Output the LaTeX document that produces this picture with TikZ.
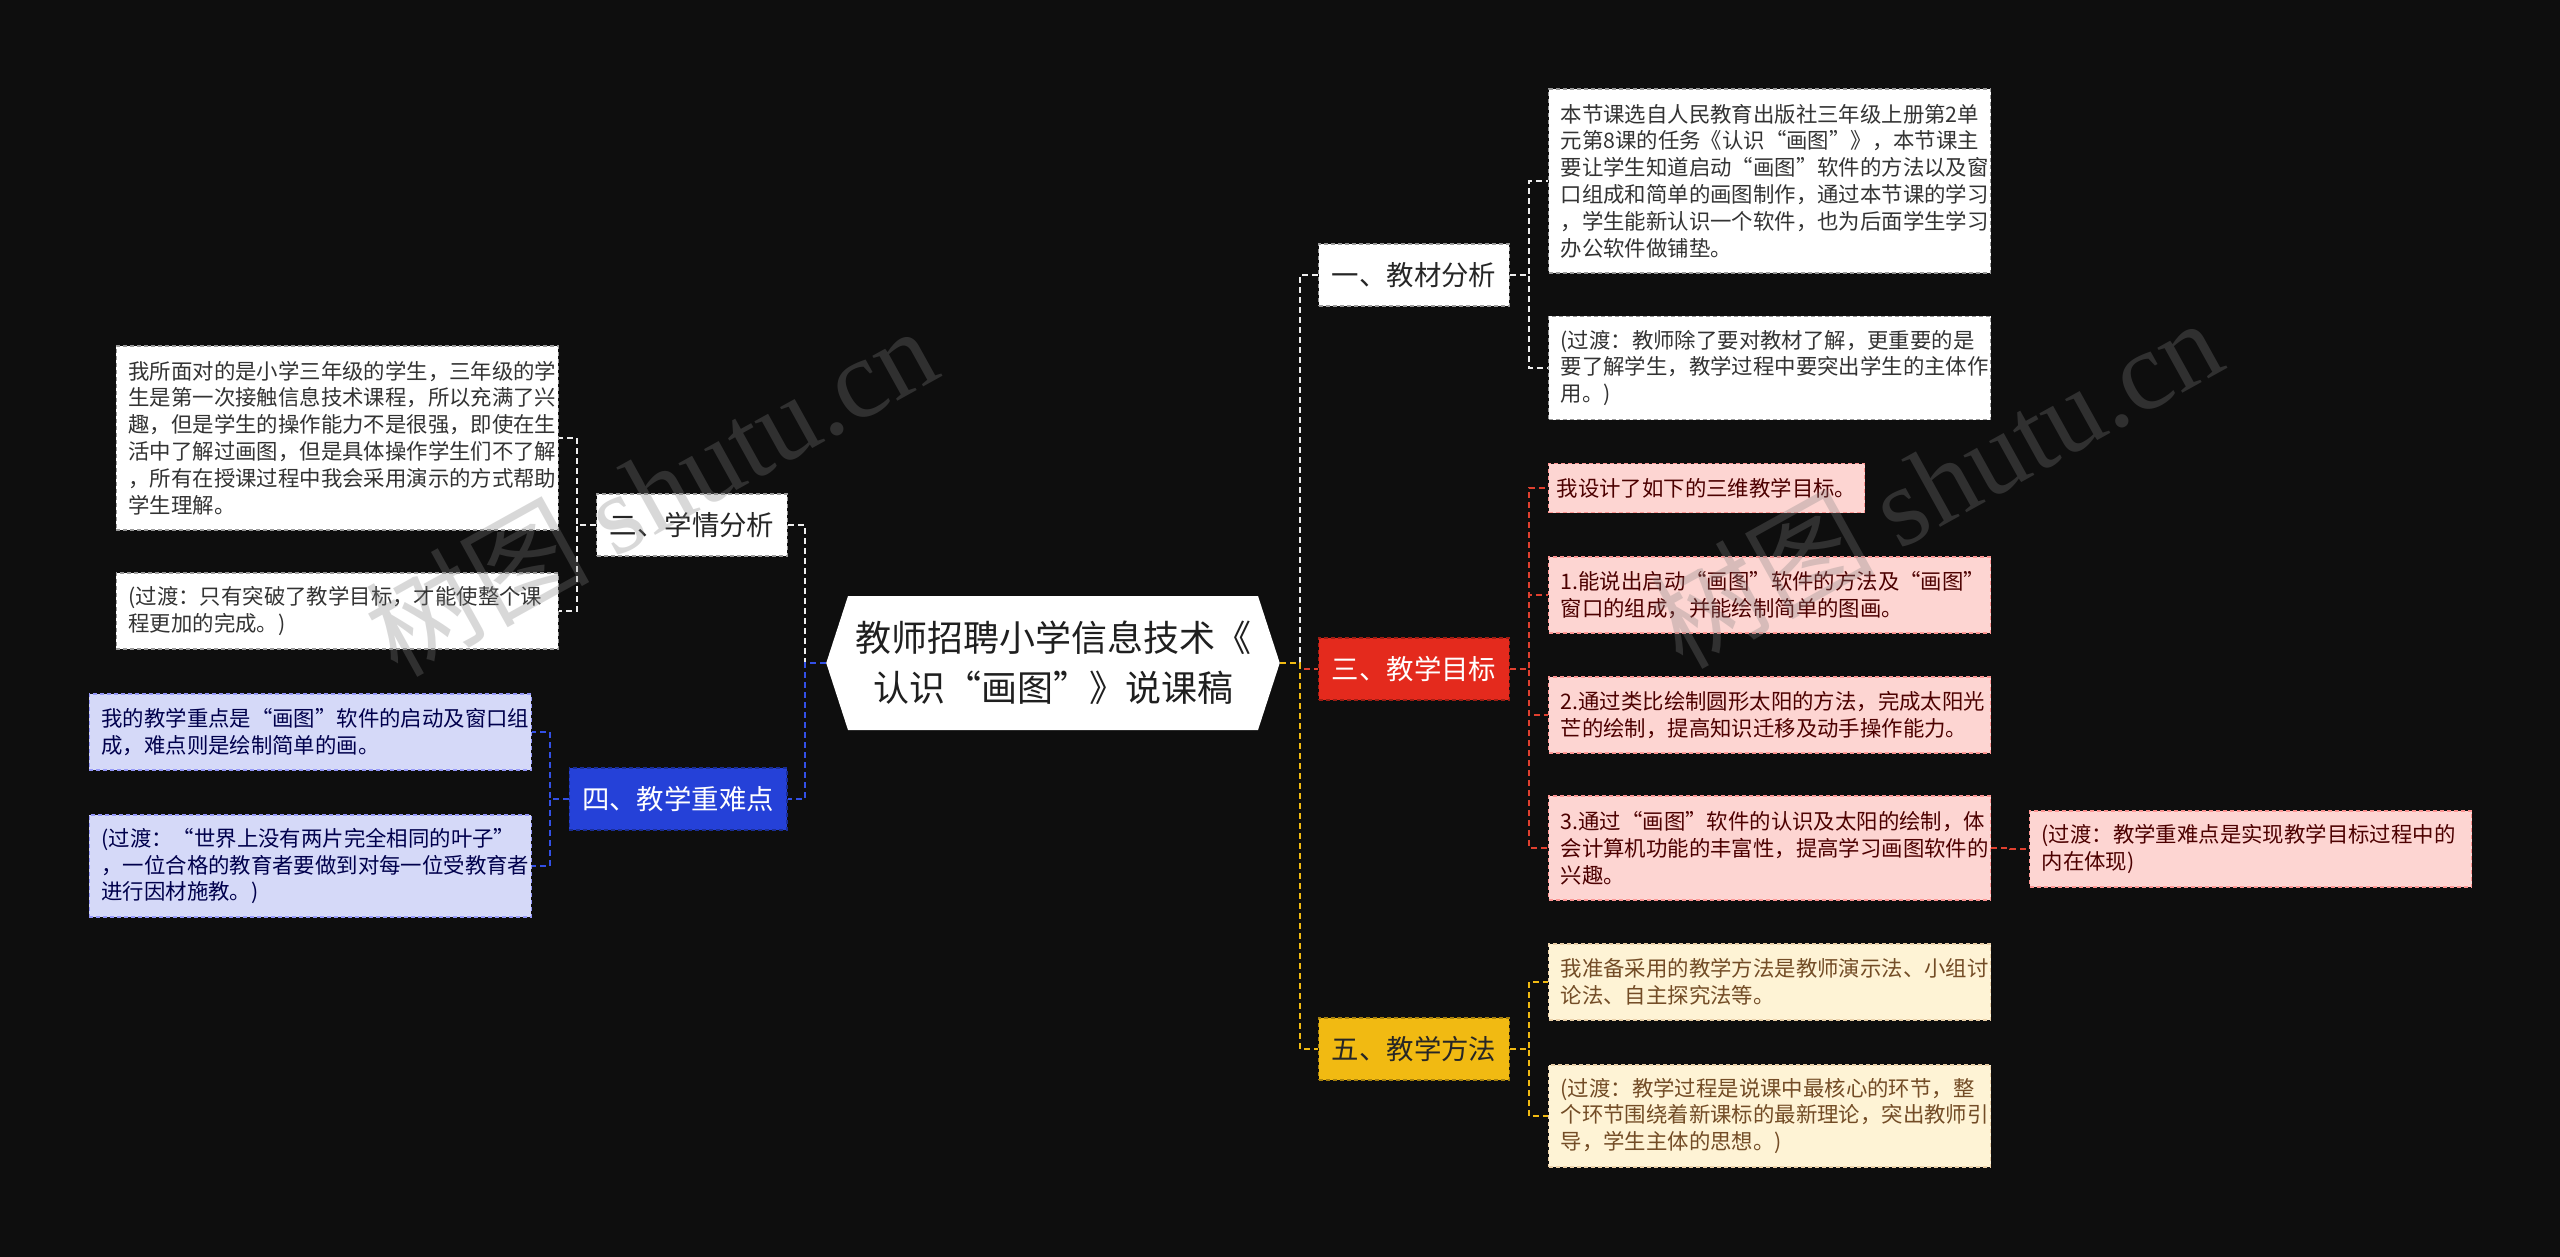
\documentclass[tikz,border=0pt]{standalone}
\usepackage{fontspec}
\setmainfont{Noto Sans CJK SC}
\newfontfamily\wmfont{Liberation Serif}
\usetikzlibrary{shapes.symbols}

\definecolor{bgdark}{HTML}{0E0E0E}
\definecolor{redtopic}{HTML}{E42A1D}
\definecolor{yellowtopic}{HTML}{F1BA12}
\definecolor{bluetopic}{HTML}{2541D8}
\definecolor{pinkfill}{HTML}{FDD5D2}
\definecolor{creamfill}{HTML}{FEF3D5}
\definecolor{lilacfill}{HTML}{D5D9F8}
\definecolor{linkwhite}{HTML}{EEEEEE}
\definecolor{linkred}{HTML}{E0402F}
\definecolor{linkyellow}{HTML}{F1BA12}
\definecolor{linkblue}{HTML}{3350E6}

\begin{document}
\begin{tikzpicture}[x=0.5pt, y=-0.5pt]
		\tikzset{title/.style = {shape=signal, signal to=west and east, signal pointer angle=144, fill=white, text=black!88, align=center, minimum height=67pt, inner xsep=3.5pt, font=\fontsize{18}{25}\selectfont}}
		\tikzset{topic/.style = {draw, dash pattern=on 2pt off 1.5pt, line width=0.6pt, minimum height=31pt, inner xsep=6.5pt, font=\fontsize{13.7}{16}\selectfont}}
		\tikzset{leaf/.style = {draw, dash pattern=on 2pt off 1.5pt, line width=0.6pt, text width=209pt, align=left, inner xsep=6pt, inner ysep=2pt, font=\fontsize{10.7}{13.4}\selectfont}}
		\tikzset{whiteleaf/.style = {leaf, fill=white, draw=black!40, text=black!80}}
		\tikzset{pinkleaf/.style = {leaf, fill=pinkfill, draw=pinkfill!70!red, text=red!30!black}}
		\tikzset{creamleaf/.style = {leaf, fill=creamfill, draw=creamfill!70!brown, text=brown!60!black}}
		\tikzset{lilacleaf/.style = {leaf, fill=lilacfill, draw=lilacfill!70!blue, text=blue!30!black}}
		\tikzset{edge/.style = {line width=1pt, dash pattern=on 3pt off 2pt}}
		\tikzset{wmtext/.style = {text=gray, opacity=0.3, font=\fontsize{56}{56}\selectfont}}
		\fill[bgdark] (0,0) rectangle (2560,1257);
		% center
		\node[title] (cn) at (1053,663) {教师招聘小学信息技术《\\认识“画图”》说课稿};
		% main topics
		\node[topic, fill=white, draw=black!40, text=black!85] (m1) at (1414,275) {一、教材分析};
		\node[topic, fill=redtopic, draw=redtopic!70!black, text=white] (m3) at (1414,669) {三、教学目标};
		\node[topic, fill=yellowtopic, draw=yellowtopic!70!black, text=black!85] (m5) at (1414,1049) {五、教学方法};
		\node[topic, fill=white, draw=black!40, text=black!85] (m2) at (692,525) {二、学情分析};
		\node[topic, fill=bluetopic, draw=bluetopic!70!black, text=white] (m4) at (678,799) {四、教学重难点};
		% leaves right
		\node[whiteleaf, anchor=west, minimum height=92pt] (a1) at (1548,181) {本节课选自人民教育出版社三年级上册第2单\\元第8课的任务《认识“画图”》，本节课主\\要让学生知道启动“画图”软件的方法以及窗\\口组成和简单的画图制作，通过本节课的学习\\，学生能新认识一个软件，也为后面学生学习\\办公软件做铺垫。};
		\node[whiteleaf, anchor=west, minimum height=51.5pt] (a2) at (1548,368) {(过渡：教师除了要对教材了解，更重要的是\\要了解学生，教学过程中要突出学生的主体作\\用。)};
		\node[pinkleaf, anchor=west, minimum height=24.5pt, text width=150pt, inner xsep=4pt] (c0) at (1548,488) {我设计了如下的三维教学目标。};
		\node[pinkleaf, anchor=west, minimum height=38pt] (c1) at (1548,595) {1.能说出启动“画图”软件的方法及“画图”\\窗口的组成，并能绘制简单的图画。};
		\node[pinkleaf, anchor=west, minimum height=38pt] (c2) at (1548,715) {2.通过类比绘制圆形太阳的方法，完成太阳光\\芒的绘制，提高知识迁移及动手操作能力。};
		\node[pinkleaf, anchor=west, minimum height=52pt] (c3) at (1548,848) {3.通过“画图”软件的认识及太阳的绘制，体\\会计算机功能的丰富性，提高学习画图软件的\\兴趣。};
		\node[pinkleaf, anchor=west, minimum height=38pt] (c3a) at (2029,849) {(过渡：教学重难点是实现教学目标过程中的\\内在体现)};
		\node[creamleaf, anchor=west, minimum height=38pt] (e1) at (1548,982) {我准备采用的教学方法是教师演示法、小组讨\\论法、自主探究法等。};
		\node[creamleaf, anchor=west, minimum height=51pt] (e2) at (1548,1116) {(过渡：教学过程是说课中最核心的环节，整\\个环节围绕着新课标的最新理论，突出教师引\\导，学生主体的思想。)};
		% leaves left
		\node[whiteleaf, anchor=east, minimum height=92pt] (b1) at (559,438) {我所面对的是小学三年级的学生，三年级的学\\生是第一次接触信息技术课程，所以充满了兴\\趣，但是学生的操作能力不是很强，即使在生\\活中了解过画图，但是具体操作学生们不了解\\，所有在授课过程中我会采用演示的方式帮助\\学生理解。};
		\node[whiteleaf, anchor=east, minimum height=38pt] (b2) at (559,611) {(过渡：只有突破了教学目标，才能使整个课\\程更加的完成。)};
		\node[lilacleaf, anchor=east, minimum height=38pt] (d1) at (532,732) {我的教学重点是“画图”软件的启动及窗口组\\成，难点则是绘制简单的画。};
		\node[lilacleaf, anchor=east, minimum height=51pt] (d2) at (532,866) {(过渡：“世界上没有两片完全相同的叶子”\\，一位合格的教育者要做到对每一位受教育者\\进行因材施教。)};
		% edges
		\draw[edge, linkwhite] (cn.east) -- ++(20,0) |- (m1.west);
		\draw[edge, linkred] (cn.east) -- ++(20,0) |- (m3.west);
		\draw[edge, linkyellow] (cn.east) -- ++(20,0) |- (m5.west);
		\draw[edge, linkwhite] (cn.west) -- ++(-21,0) |- (m2.east);
		\draw[edge, linkblue] (cn.west) -- ++(-21,0) |- (m4.east);
		\foreach \leafname in {a1,a2}
			\draw[edge, linkwhite] (m1.east) -- ++(19,0) |- (\leafname.west);
		\foreach \leafname in {c0,c1,c2,c3}
			\draw[edge, linkred] (m3.east) -- ++(19,0) |- (\leafname.west);
		\draw[edge, linkred] (c3.east) -- ++(19,0) |- (c3a.west);
		\foreach \leafname in {e1,e2}
			\draw[edge, linkyellow] (m5.east) -- ++(19,0) |- (\leafname.west);
		\foreach \leafname in {b1,b2}
			\draw[edge, linkwhite] (m2.west) -- ++(-19,0) |- (\leafname.east);
		\foreach \leafname in {d1,d2}
			\draw[edge, linkblue] (m4.west) -- ++(-19,0) |- (\leafname.east);
		% watermark
		\node[wmtext, rotate=29] (wm1) at (650,490) {树图 {\wmfont shutu.cn}};
		\node[wmtext, rotate=29] (wm2) at (1935,482) {树图 {\wmfont shutu.cn}};
\end{tikzpicture}
\end{document}
